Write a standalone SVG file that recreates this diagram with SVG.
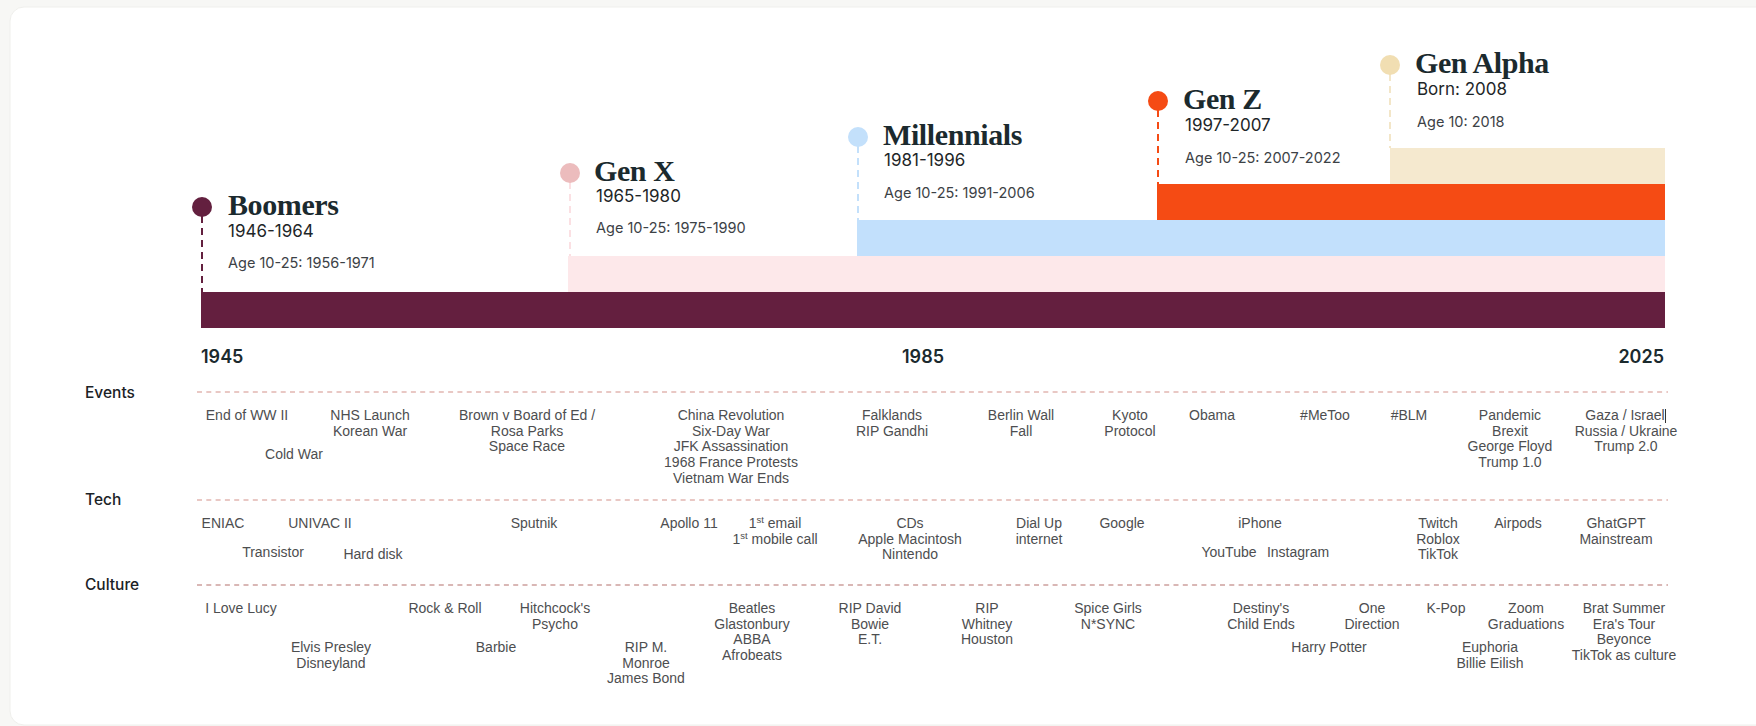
<svg xmlns="http://www.w3.org/2000/svg" width="1756" height="726" viewBox="0 0 1756 726">
<style>
.title{font-family:"Liberation Serif","DejaVu Serif",serif;font-weight:700;font-size:30px;fill:#1b2a2e;letter-spacing:-0.4px}
.sub{font-family:Inter,"Noto Sans",sans-serif;font-size:17px;fill:#1e2628}
.age{font-family:Inter,"Noto Sans",sans-serif;font-size:14.5px;fill:#3c4246}
.year{font-family:Inter,"Noto Sans",sans-serif;font-size:18px;font-weight:600;fill:#1b2a2e}
.row{font-family:Inter,"Noto Sans",sans-serif;font-size:15.5px;font-weight:500;fill:#1b2226}
.it{font-family:"Liberation Sans",Arial,sans-serif;font-size:14px;fill:#4d4e50;text-anchor:middle}
.sup{font-size:9.5px}
.guide{stroke:#d3918a;stroke-width:1.2;stroke-dasharray:5 4.3;fill:none}
.guide2{stroke:#b3716c;stroke-width:1.2;stroke-dasharray:5 4.3;fill:none}
.stem{stroke-width:2;stroke-dasharray:7 5;fill:none}
</style>
<rect x="0" y="0" width="1756" height="726" fill="#f7f7f5"/>
<rect x="10" y="7" width="1780" height="718" rx="14" fill="#ffffff" stroke="#efefec" stroke-width="1"/>

<g id="connectors">
  <line class="stem" x1="202" y1="216" x2="202" y2="292" stroke="#63203f"/>
  <line class="stem" x1="570" y1="182" x2="570" y2="256" stroke="#fbe0e3"/>
  <line class="stem" x1="858" y1="146" x2="858" y2="220" stroke="#c3e0fb"/>
  <line class="stem" x1="1158" y1="110" x2="1158" y2="184" stroke="#f54b14"/>
  <line class="stem" x1="1390" y1="74" x2="1390" y2="148" stroke="#f3e6c8"/>
  <line class="guide" x1="197" y1="392" x2="1668" y2="392"/>
  <line class="guide" x1="197" y1="500" x2="1668" y2="500"/>
  <line class="guide2" x1="197" y1="585" x2="1668" y2="585"/>
</g>

<g id="gen-alpha">
  <rect x="1390" y="148" width="275" height="36" fill="#f5e9cf"/>
  <circle cx="1390" cy="65" r="10" fill="#f1deb2"/>
  <text class="title" x="1415" y="73">Gen Alpha</text>
  <text class="sub" x="1417" y="95">Born: 2008</text>
  <text class="age" x="1417" y="127">Age 10: 2018</text>
</g>
<g id="gen-z">
  <rect x="1157" y="184" width="508" height="36" fill="#f54b14"/>
  <circle cx="1158" cy="101" r="10" fill="#f54b14"/>
  <text class="title" x="1183" y="109">Gen Z</text>
  <text class="sub" x="1185" y="131">1997-2007</text>
  <text class="age" x="1185" y="163">Age 10-25: 2007-2022</text>
</g>
<g id="millennials">
  <rect x="857" y="220" width="808" height="36" fill="#c2e0fc"/>
  <circle cx="858" cy="137" r="10" fill="#c3e0fb"/>
  <text class="title" x="883" y="145">Millennials</text>
  <text class="sub" x="884" y="166">1981-1996</text>
  <text class="age" x="884" y="198">Age 10-25: 1991-2006</text>
</g>
<g id="gen-x">
  <rect x="568" y="256" width="1097" height="36" fill="#fde8ea"/>
  <circle cx="570" cy="173" r="10" fill="#ecbcbd"/>
  <text class="title" x="594" y="181">Gen X</text>
  <text class="sub" x="596" y="202">1965-1980</text>
  <text class="age" x="596" y="233">Age 10-25: 1975-1990</text>
</g>
<g id="boomers">
  <rect x="201" y="292" width="1464" height="36" fill="#641f3f"/>
  <circle cx="202" cy="207" r="10" fill="#63203f"/>
  <text class="title" x="228" y="215">Boomers</text>
  <text class="sub" x="228" y="237">1946-1964</text>
  <text class="age" x="228" y="268">Age 10-25: 1956-1971</text>
</g>

<g id="axis">
  <text class="year" x="201" y="363">1945</text>
  <text class="year" x="902" y="363">1985</text>
  <text class="year" x="1664" y="363" text-anchor="end">2025</text>
  <text class="row" x="85" y="398">Events</text>
  <text class="row" x="85" y="505">Tech</text>
  <text class="row" x="85" y="590">Culture</text>
</g>

<g id="events">
  <text class="it" x="247" y="420">End of WW II</text>
  <text class="it" x="370" y="420"><tspan x="370">NHS Launch</tspan><tspan x="370" dy="15.7">Korean War</tspan></text>
  <text class="it" x="294" y="459">Cold War</text>
  <text class="it" x="527" y="420"><tspan x="527">Brown v Board of Ed /</tspan><tspan x="527" dy="15.7">Rosa Parks</tspan><tspan x="527" dy="15.7">Space Race</tspan></text>
  <text class="it" x="731" y="420"><tspan x="731">China Revolution</tspan><tspan x="731" dy="15.7">Six-Day War</tspan><tspan x="731" dy="15.7">JFK Assassination</tspan><tspan x="731" dy="15.7">1968 France Protests</tspan><tspan x="731" dy="15.7">Vietnam War Ends</tspan></text>
  <text class="it" x="892" y="420"><tspan x="892">Falklands</tspan><tspan x="892" dy="15.7">RIP Gandhi</tspan></text>
  <text class="it" x="1021" y="420"><tspan x="1021">Berlin Wall</tspan><tspan x="1021" dy="15.7">Fall</tspan></text>
  <text class="it" x="1130" y="420"><tspan x="1130">Kyoto</tspan><tspan x="1130" dy="15.7">Protocol</tspan></text>
  <text class="it" x="1212" y="420">Obama</text>
  <text class="it" x="1325" y="420">#MeToo</text>
  <text class="it" x="1409" y="420">#BLM</text>
  <text class="it" x="1510" y="420"><tspan x="1510">Pandemic</tspan><tspan x="1510" dy="15.7">Brexit</tspan><tspan x="1510" dy="15.7">George Floyd</tspan><tspan x="1510" dy="15.7">Trump 1.0</tspan></text>
  <text class="it" x="1626" y="420"><tspan x="1625">Gaza / Israel</tspan><tspan x="1626" dy="15.7">Russia / Ukraine</tspan><tspan x="1626" dy="15.7">Trump 2.0</tspan></text>
  <line x1="1665.5" y1="409" x2="1665.5" y2="423" stroke="#333" stroke-width="1"/>
</g>

<g id="tech">
  <text class="it" x="223" y="528">ENIAC</text>
  <text class="it" x="320" y="528">UNIVAC II</text>
  <text class="it" x="273" y="557">Transistor</text>
  <text class="it" x="373" y="559">Hard disk</text>
  <text class="it" x="534" y="528">Sputnik</text>
  <text class="it" x="689" y="528">Apollo 11</text>
  <text class="it" x="775" y="528"><tspan x="775">1<tspan class="sup" dy="-5">st</tspan><tspan dy="5"> email</tspan></tspan></text>
  <text class="it" x="775" y="544">1<tspan class="sup" dy="-5">st</tspan><tspan dy="5"> mobile call</tspan></text>
  <text class="it" x="910" y="528"><tspan x="910">CDs</tspan><tspan x="910" dy="15.7">Apple Macintosh</tspan><tspan x="910" dy="15.7">Nintendo</tspan></text>
  <text class="it" x="1039" y="528"><tspan x="1039">Dial Up</tspan><tspan x="1039" dy="15.7">internet</tspan></text>
  <text class="it" x="1122" y="528">Google</text>
  <text class="it" x="1260" y="528">iPhone</text>
  <text class="it" x="1229" y="557">YouTube</text>
  <text class="it" x="1298" y="557">Instagram</text>
  <text class="it" x="1438" y="528"><tspan x="1438">Twitch</tspan><tspan x="1438" dy="15.7">Roblox</tspan><tspan x="1438" dy="15.7">TikTok</tspan></text>
  <text class="it" x="1518" y="528">Airpods</text>
  <text class="it" x="1616" y="528"><tspan x="1616">GhatGPT</tspan><tspan x="1616" dy="15.7">Mainstream</tspan></text>
</g>

<g id="culture">
  <text class="it" x="241" y="613">I Love Lucy</text>
  <text class="it" x="331" y="652"><tspan x="331">Elvis Presley</tspan><tspan x="331" dy="15.7">Disneyland</tspan></text>
  <text class="it" x="445" y="613">Rock &amp; Roll</text>
  <text class="it" x="555" y="613"><tspan x="555">Hitchcock's</tspan><tspan x="555" dy="15.7">Psycho</tspan></text>
  <text class="it" x="496" y="652">Barbie</text>
  <text class="it" x="646" y="652"><tspan x="646">RIP M.</tspan><tspan x="646" dy="15.7">Monroe</tspan><tspan x="646" dy="15.7">James Bond</tspan></text>
  <text class="it" x="752" y="613"><tspan x="752">Beatles</tspan><tspan x="752" dy="15.7">Glastonbury</tspan><tspan x="752" dy="15.7">ABBA</tspan><tspan x="752" dy="15.7">Afrobeats</tspan></text>
  <text class="it" x="870" y="613"><tspan x="870">RIP David</tspan><tspan x="870" dy="15.7">Bowie</tspan><tspan x="870" dy="15.7">E.T.</tspan></text>
  <text class="it" x="987" y="613"><tspan x="987">RIP</tspan><tspan x="987" dy="15.7">Whitney</tspan><tspan x="987" dy="15.7">Houston</tspan></text>
  <text class="it" x="1108" y="613"><tspan x="1108">Spice Girls</tspan><tspan x="1108" dy="15.7">N*SYNC</tspan></text>
  <text class="it" x="1261" y="613"><tspan x="1261">Destiny's</tspan><tspan x="1261" dy="15.7">Child Ends</tspan></text>
  <text class="it" x="1329" y="652">Harry Potter</text>
  <text class="it" x="1372" y="613"><tspan x="1372">One</tspan><tspan x="1372" dy="15.7">Direction</tspan></text>
  <text class="it" x="1446" y="613">K-Pop</text>
  <text class="it" x="1526" y="613"><tspan x="1526">Zoom</tspan><tspan x="1526" dy="15.7">Graduations</tspan></text>
  <text class="it" x="1490" y="652"><tspan x="1490">Euphoria</tspan><tspan x="1490" dy="15.7">Billie Eilish</tspan></text>
  <text class="it" x="1624" y="613"><tspan x="1624">Brat Summer</tspan><tspan x="1624" dy="15.7">Era's Tour</tspan><tspan x="1624" dy="15.7">Beyonce</tspan><tspan x="1624" dy="15.7">TikTok as culture</tspan></text>
</g>
</svg>
